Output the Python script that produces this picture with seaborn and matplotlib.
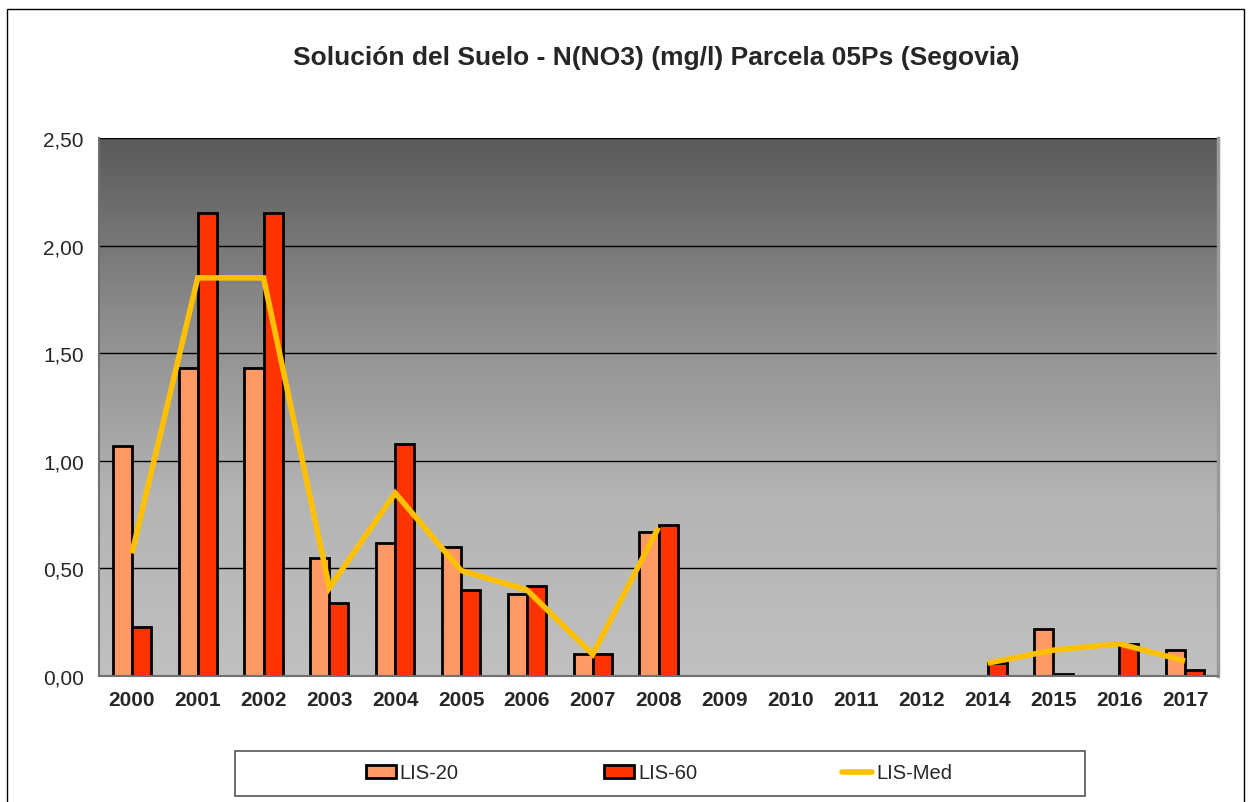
import numpy as np
import pandas as pd
import matplotlib
matplotlib.use("Agg")
import matplotlib.pyplot as plt
import seaborn as sns
from matplotlib.patches import Rectangle, Patch
from matplotlib.lines import Line2D
from matplotlib.ticker import FuncFormatter, MultipleLocator

# ---- data -------------------------------------------------------------
years = ["2000", "2001", "2002", "2003", "2004", "2005", "2006", "2007", "2008",
         "2009", "2010", "2011", "2012", "2014", "2015", "2016", "2017"]
nan = np.nan
lis_20 = [1.07, 1.43, 1.43, 0.55, 0.62, 0.60, 0.38, 0.10, 0.67,
          nan, nan, nan, nan, nan, 0.22, nan, 0.12]
lis_60 = [0.23, 2.15, 2.15, 0.34, 1.08, 0.40, 0.42, 0.10, 0.70,
          nan, nan, nan, nan, 0.06, 0.01, 0.15, 0.03]
lis_med = [0.57, 1.85, 1.85, 0.41, 0.85, 0.49, 0.40, 0.10, 0.69,
           nan, nan, nan, nan, 0.06, 0.12, 0.15, 0.07]
series_names = ["LIS-20", "LIS-60"]
line_name = "LIS-Med"
title = "Solución del Suelo - N(NO3) (mg/l) Parcela 05Ps (Segovia)"

colors = {"LIS-20": "#FF9966", "LIS-60": "#FF3300"}
line_color = "#FFC000"

df = pd.DataFrame({
    "year": years * 2,
    "serie": [series_names[0]] * len(years) + [series_names[1]] * len(years),
    "value": lis_20 + lis_60,
})

# ---- figure -----------------------------------------------------------
sns.set_style("white")
plt.rcParams["font.family"] = ["Liberation Sans", "DejaVu Sans"]

W, H = 1248, 803
fig = plt.figure(figsize=(W / 100, H / 100), dpi=100)
ax = fig.add_axes([99 / W, 1 - 677 / H, (1218 - 99) / W, (677 - 139) / H])

# outer chart frame
fig.patches.append(Rectangle((7 / W, -0.05), (1244 - 7) / W, 1 - 10 / H + 0.05,
                             transform=fig.transFigure, fill=False,
                             edgecolor="black", linewidth=1.0))

# vertical gradient in the plot area
grad = np.linspace(0, 1, 256).reshape(-1, 1)
ax.imshow(grad, extent=[0, 1, 0, 1], transform=ax.transAxes, aspect="auto",
          cmap=matplotlib.colors.LinearSegmentedColormap.from_list(
              "bg", ["#C0C0C0", "#B4B4B4", "#8C8C8C", "#5A5A5A"]),
          origin="lower", zorder=0)

sns.barplot(data=df, x="year", y="value", hue="serie", order=years,
            hue_order=series_names, palette=colors, width=0.58,
            edgecolor="black", linewidth=2.0, saturation=1, ax=ax,
            legend=False, zorder=2)

xpos = np.arange(len(years))
ax.plot(xpos, lis_med, color=line_color, linewidth=4, zorder=4,
        solid_capstyle="butt", solid_joinstyle="miter")

ax.set_xlim(-0.5, len(years) - 0.5)
ax.set_ylim(0, 2.5)
ax.yaxis.set_major_locator(MultipleLocator(0.5))
ax.yaxis.set_major_formatter(FuncFormatter(lambda v, p: f"{v:.2f}".replace(".", ",")))
ax.grid(axis="y", color="black", linewidth=1.0, zorder=1)
ax.grid(axis="x", visible=False)
ax.set_axisbelow(True)

ax.set_xlabel("")
ax.set_ylabel("")
ax.tick_params(axis="y", labelsize=15, direction="out", length=6,
               width=1, color="black", pad=5)
ax.tick_params(axis="x", which="major", labelsize=15, length=0, pad=10)
for lab in ax.get_xticklabels():
    lab.set_fontweight("bold")
ax.set_xticks(np.arange(-0.5, len(years), 1.0), minor=True)
ax.tick_params(axis="x", which="minor", direction="out", length=6,
               width=1, color="#555555")

ax.spines["top"].set_visible(False)
ax.spines["left"].set_color("#707070")
ax.spines["left"].set_linewidth(1.5)
ax.spines["bottom"].set_color("#707070")
ax.spines["bottom"].set_linewidth(1.5)
ax.spines["right"].set_color("#9A9A9A")
ax.spines["right"].set_linewidth(2.5)

fig.text(656 / W, 1 - 58 / H, title, ha="center", va="center",
         fontsize=19, fontweight="bold")

# legend box and entries
fig.patches.append(Rectangle((235 / W, 1 - 797 / H), (1085 - 235) / W, 45 / H,
                             transform=fig.transFigure, fill=False,
                             edgecolor="#555555", linewidth=1.2))
handles = [Patch(facecolor=colors["LIS-20"], edgecolor="black", linewidth=2),
           Patch(facecolor=colors["LIS-60"], edgecolor="black", linewidth=2),
           Line2D([], [], color=line_color, linewidth=4)]
fig.legend(handles, series_names + [line_name], loc="center",
           bbox_to_anchor=(659 / W, 1 - 774 / H), ncol=3, frameon=False,
           fontsize=14.5, handlelength=1.5, handleheight=0.6,
           handletextpad=0.2, columnspacing=7.2)

fig.savefig("out.png", dpi=100)
